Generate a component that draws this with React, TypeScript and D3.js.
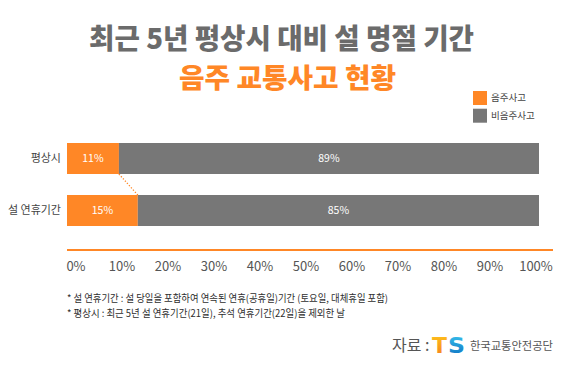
import React from "react";
import * as d3 from "d3";

const categories = ["평상시", "설 연휴기간"];
const drunkValues = [11, 15];
const nonDrunkValues = [89, 85];
const seriesNames = ["음주사고", "비음주사고"];
const tickLabels = ["0%", "10%", "20%", "30%", "40%", "50%", "60%", "70%", "80%", "90%", "100%"];
const titleLine1 = "최근 5년 평상시 대비 설 명절 기간";
const titleLine2 = "음주 교통사고 현황";
const notes = [
  "* 설 연휴기간 : 설 당일을 포함하여 연속된 연휴(공휴일)기간 (토요일, 대체휴일 포함)",
  "* 평상시 : 최근 5년 설 연휴기간(21일), 추석 연휴기간(22일)을 제외한 날",
];
const sourceLabel = "자료 :";
const sourceOrg = "한국교통안전공단";

const W = 567;
const H = 374;
const ORANGE = "#FF8726";
const GRAY = "#777777";
const FONT = "'Noto Sans CJK KR', 'Noto Sans', sans-serif";

export default function App() {
  const x = d3.scaleLinear().domain([0, 100]).range([67, 539]);
  const y = d3
    .scaleBand<string>()
    .domain(categories)
    .range([117, 252])
    .paddingInner(21 / 52)
    .paddingOuter(0.5);
  const bh = y.bandwidth();
  const tickX = d3.scalePoint<string>().domain(tickLabels).range([76, 536]);
  const colors = [ORANGE, GRAY];

  const rows = categories.map((c, i) => ({ c, a: drunkValues[i], b: nonDrunkValues[i] }));

  return (
    <svg width={W} height={H} style={{ position: "absolute", left: 0, top: 0, background: "#fff" }} fontFamily={FONT}>
      <defs>
        <linearGradient id="gT" x1="0" y1="0" x2="0" y2="1">
          <stop offset="0" stopColor="#FFC61A" />
          <stop offset="1" stopColor="#F57B1F" />
        </linearGradient>
        <linearGradient id="gS" x1="0" y1="0" x2="0" y2="1">
          <stop offset="0" stopColor="#3CC4EE" />
          <stop offset="1" stopColor="#0A6FC0" />
        </linearGradient>
      </defs>
      <text x={281.5} y={49} textAnchor="middle" fontSize={28} fontWeight={800} fill="#6B6B6B" textLength={385} lengthAdjust="spacingAndGlyphs">
        {titleLine1}
      </text>
      <text x={287.5} y={88} textAnchor="middle" fontSize={27} fontWeight={800} fill={ORANGE} textLength={217} lengthAdjust="spacingAndGlyphs">
        {titleLine2}
      </text>

      {seriesNames.map((s, i) => (
        <g key={s}>
          <rect x={473} y={91 + i * 17.7} width={14} height={14} fill={colors[i]} />
          <text x={491} y={98 + i * 17.7} dy="0.35em" fontSize={9.5} fill="#444">
            {s}
          </text>
        </g>
      ))}

      {rows.map((r) => {
        const y0 = y(r.c)!;
        return (
          <g key={r.c}>
            <text x={61} y={y0 + bh / 2} dy="0.35em" textAnchor="end" fontSize={11} fill="#444">
              {r.c}
            </text>
            <rect x={x(0)} y={y0} width={x(r.a) - x(0)} height={bh} fill={ORANGE} />
            <rect x={x(r.a)} y={y0} width={x(r.a + r.b) - x(r.a)} height={bh} fill={GRAY} />
            <text x={(x(0) + x(r.a)) / 2} y={y0 + bh / 2} dy="0.35em" textAnchor="middle" fontSize={10.5} fill="#fff">
              {r.a}%
            </text>
            <text x={(x(r.a) + x(r.a + r.b)) / 2} y={y0 + bh / 2} dy="0.35em" textAnchor="middle" fontSize={10.5} fill="#fff">
              {r.b}%
            </text>
          </g>
        );
      })}

      <line
        x1={x(rows[0].a)}
        y1={y(categories[0])! + bh}
        x2={x(rows[1].a)}
        y2={y(categories[1])!}
        stroke={ORANGE}
        strokeWidth={1.3}
        strokeDasharray="1.3,1.7"
      />

      <line x1={67} x2={553} y1={250} y2={250} stroke={ORANGE} strokeWidth={2} />
      {tickLabels.map((t) => (
        <text key={t} x={tickX(t)} y={266} dy="0.35em" textAnchor="middle" fontSize={13} fill="#555">
          {t}
        </text>
      ))}

      {notes.map((n, i) => (
        <text key={i} x={67} y={298 + i * 15} dy="0.35em" fontSize={10} fill="#2e2e2e" textLength={i === 0 ? 321 : 278} lengthAdjust="spacingAndGlyphs">
          {n}
        </text>
      ))}

      <text x={392} y={345} dy="0.35em" fontSize={16} fill="#555">
        {sourceLabel}
      </text>
      <text x={432} y={353} fontSize={22} fontWeight={700} fill="url(#gT)" fontFamily="'DejaVu Sans', sans-serif" textLength={15} lengthAdjust="spacingAndGlyphs">
        T
      </text>
      <text x={448} y={353} fontSize={22} fontWeight={700} fill="url(#gS)" fontFamily="'DejaVu Sans', sans-serif" textLength={17} lengthAdjust="spacingAndGlyphs">
        S
      </text>
      <text x={470} y={346} dy="0.35em" fontSize={11} fill="#555" textLength={83} lengthAdjust="spacingAndGlyphs">
        {sourceOrg}
      </text>
    </svg>
  );
}
